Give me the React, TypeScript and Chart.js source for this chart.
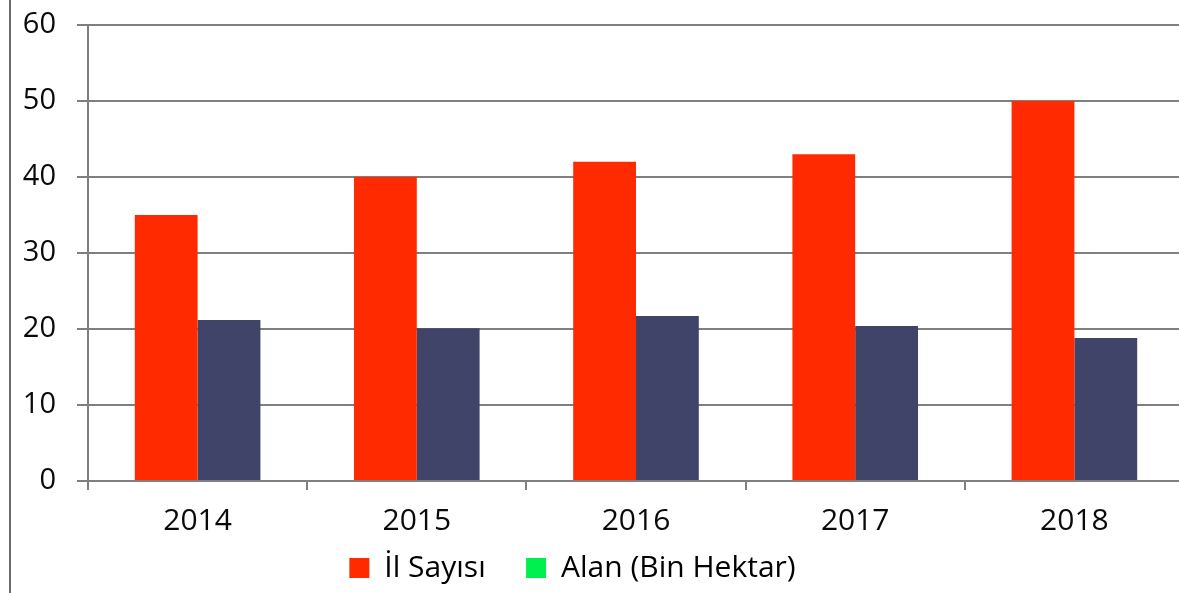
import React, { useEffect, useRef } from "react";
import { Chart, registerables } from "chart.js";

Chart.register(...registerables);

const years = ["2014", "2015", "2016", "2017", "2018"];
const ilSayisi = [35, 40, 42, 43, 50];
const alan = [21.2, 20.1, 21.7, 20.4, 18.8];
const seriesNames = ["İl Sayısı", "Alan (Bin Hektar)"];
const barColors = ["#FF2A00", "#404468"];
const legendColors = ["#FF2A00", "#00F050"];
const yTicksMax = 60;
const yTickStep = 10;

const FONT = "'Open Sans', 'DejaVu Sans', sans-serif";
const GRID = "#7f7f7f";
const TEXT = "#0a0a0a";
const GAP1 = "\u00a0\u00a0\u00a0";
const GAP2 = "\u00a0\u00a0\u00a0\u00a0\u00a0";

const leftLine = {
  id: "leftLine",
  afterDraw(chart: any) {
    const ctx = chart.ctx;
    ctx.save();
    ctx.strokeStyle = "#6a6a6a";
    ctx.lineWidth = 2;
    ctx.beginPath();
    ctx.moveTo(10, 0);
    ctx.lineTo(10, chart.height);
    ctx.stroke();
    ctx.restore();
  },
};

export default function App() {
  const ref = useRef<HTMLCanvasElement | null>(null);

  useEffect(() => {
    document.body.style.margin = "0";
    const canvas = ref.current;
    if (!canvas) return;
    const chart = new Chart(canvas, {
      type: "bar",
      data: {
        labels: years,
        datasets: [
          {
            label: seriesNames[0],
            data: ilSayisi,
            backgroundColor: barColors[0],
            borderWidth: 0,
            categoryPercentage: 0.573,
            barPercentage: 1,
          },
          {
            label: seriesNames[1],
            data: alan,
            backgroundColor: barColors[1],
            borderWidth: 0,
            categoryPercentage: 0.573,
            barPercentage: 1,
          },
        ],
      },
      options: {
        responsive: false,
        animation: false,
        layout: { padding: { top: 25, left: 0, right: 0, bottom: 0 } },
        plugins: {
          tooltip: { enabled: false },
          legend: {
            position: "bottom",
            labels: {
              boxWidth: 20,
              boxHeight: 20,
              padding: 17,
              color: TEXT,
              font: { family: FONT, size: 30 },
              generateLabels: () =>
                seriesNames.map((n, i) => ({
                  text: n + (i === 0 ? GAP1 : GAP2),
                  fillStyle: legendColors[i],
                  strokeStyle: legendColors[i],
                  lineWidth: 0,
                  hidden: false,
                  datasetIndex: i,
                })),
            },
          },
        },
        scales: {
          x: {
            grid: {
              display: true,
              offset: true,
              drawOnChartArea: false,
              drawTicks: true,
              tickLength: 9,
              color: GRID,
              lineWidth: 2,
            },
            border: { display: true, color: GRID, width: 2 },
            ticks: {
              color: TEXT,
              font: { family: FONT, size: 30 },
              padding: 13,
            },
            afterFit: (s: any) => {
              s.height = 55;
            },
          },
          y: {
            min: 0,
            max: yTicksMax,
            grid: {
              color: GRID,
              lineWidth: 2,
              drawTicks: true,
              tickLength: 11,
            },
            border: { display: true, color: GRID, width: 2 },
            ticks: {
              stepSize: yTickStep,
              color: TEXT,
              font: { family: FONT, size: 29 },
              padding: 21,
            },
            afterFit: (s: any) => {
              s.width = 88;
              s.paddingTop = 0;
              s.paddingBottom = 0;
            },
          },
        },
      },
      plugins: [leftLine],
    });
    return () => chart.destroy();
  }, []);

  return (
    <div style={{ width: 1179, height: 593, overflow: "hidden" }}>
      <canvas ref={ref} width={1184} height={593} style={{ display: "block" }} />
    </div>
  );
}
